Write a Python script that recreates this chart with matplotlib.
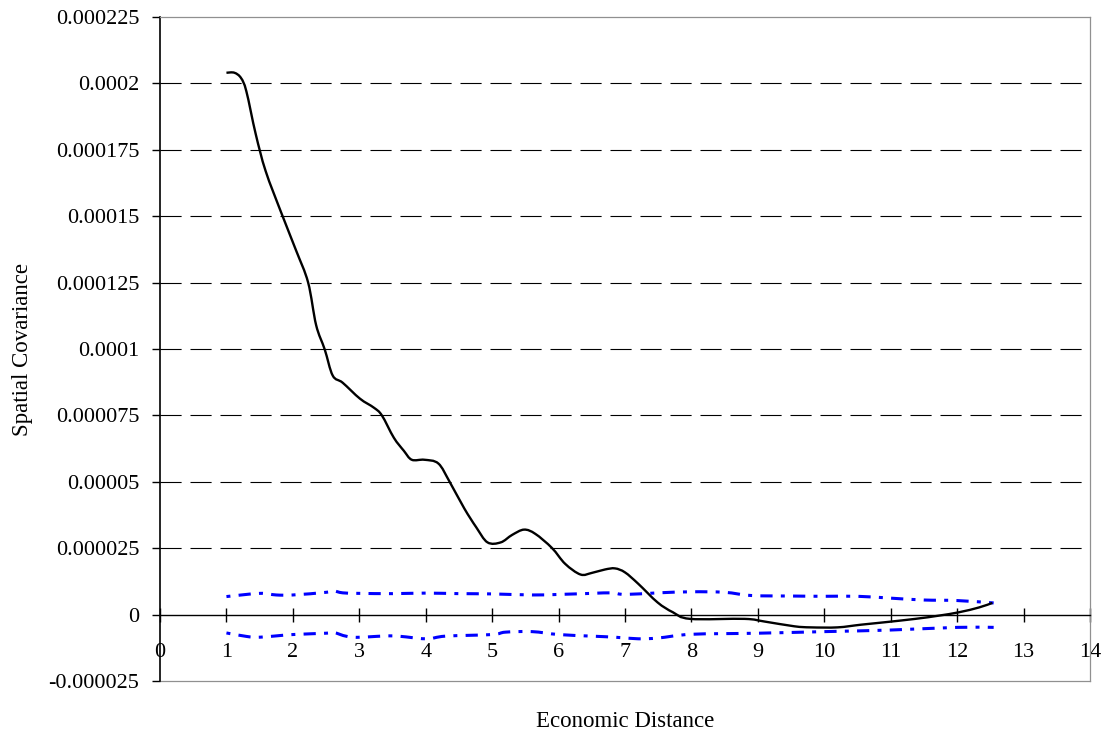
import numpy as np
import matplotlib.pyplot as plt
from matplotlib.path import Path
from matplotlib.patches import PathPatch
from matplotlib.ticker import FuncFormatter

# covariance curve
dist = [1.00, 1.12, 1.22, 1.30, 1.44, 1.59, 1.83, 2.05, 2.23, 2.35, 2.48, 2.60,
        2.75, 3.01, 3.22, 3.34, 3.52, 3.67, 3.79, 3.98, 4.19, 4.36, 4.58, 4.76,
        4.93, 5.13, 5.30, 5.48, 5.65, 5.90, 6.10, 6.33, 6.50, 6.70, 6.85, 7.00,
        7.20, 7.49, 7.72, 7.98, 8.80, 9.10, 9.55, 9.80, 10.20, 10.55, 10.90,
        11.37, 11.72, 12.03, 12.33, 12.53]
cov = [0.000204, 0.000204, 0.000202, 0.000197, 0.000181, 0.000167, 0.000151,
       0.000137, 0.000125, 0.000109, 0.0000998, 0.000090, 0.0000873, 0.0000813,
       0.0000779, 0.000075, 0.0000666, 0.0000617, 0.0000583, 0.0000583,
       0.0000569, 0.000050, 0.000040, 0.0000329, 0.0000272, 0.0000272,
       0.0000300, 0.000032, 0.0000304, 0.0000251, 0.0000191, 0.0000151,
       0.0000157, 0.0000170, 0.0000174, 0.0000159, 0.0000116, 0.0000046,
       0.0000009, -0.0000016, -0.0000016, -0.0000026, -0.0000044, -0.0000048,
       -0.0000048, -0.0000038, -0.0000029, -0.0000016, -0.0000004, 0.0000009,
       0.0000027, 0.0000044]

# confidence band (upper / lower)
band_up_x = [1.0, 1.5, 1.75, 2.0, 2.5, 2.6, 2.75, 3.0, 3.5, 4.0, 4.5, 5.0, 5.6,
             6.0, 6.5, 6.8, 7.0, 7.5, 8.0, 8.5, 8.9, 9.5, 10.0, 10.5, 11.0,
             11.5, 12.0, 12.55]
band_up = [0.0000068, 0.0000080, 0.0000074, 0.0000074, 0.0000084, 0.0000090,
           0.0000082, 0.0000080, 0.0000079, 0.0000081, 0.0000079, 0.0000078,
           0.0000074, 0.0000076, 0.0000080, 0.0000082, 0.0000076, 0.0000082,
           0.0000086, 0.0000084, 0.0000072, 0.0000070, 0.0000069, 0.0000069,
           0.0000062, 0.0000055, 0.0000053, 0.0000044]
band_lo_x = [1.0, 1.3, 1.5, 2.0, 2.5, 2.6, 2.9, 3.5, 4.0, 4.3, 5.0, 5.2, 5.6,
             6.0, 6.5, 6.85, 7.2, 7.5, 8.0, 9.0, 10.0, 11.0, 12.0, 12.55]
band_lo = [-0.0000069, -0.0000082, -0.0000085, -0.0000075, -0.0000070,
           -0.0000066, -0.0000085, -0.0000080, -0.0000091, -0.0000081,
           -0.0000075, -0.0000066, -0.0000064, -0.0000075, -0.0000081,
           -0.0000085, -0.0000091, -0.0000088, -0.0000074, -0.0000070,
           -0.0000064, -0.0000058, -0.0000048, -0.0000048]

x_ticks = list(range(0, 15))
y_ticks = [-0.000025 + 0.000025 * i for i in range(11)]


def smooth_path(xs, ys):
    """Bezier path through the points, like Excel's smoothed line."""
    pts = np.column_stack([xs, ys])
    verts = [pts[0]]
    codes = [Path.MOVETO]
    n = len(pts)
    for i in range(n - 1):
        p0 = pts[i - 1] if i > 0 else pts[i]
        p1 = pts[i]
        p2 = pts[i + 1]
        p3 = pts[i + 2] if i + 2 < n else pts[i + 1]
        verts += [p1 + (p2 - p0) / 6, p2 - (p3 - p1) / 6, p2]
        codes += [Path.CURVE4] * 3
    return Path(verts, codes)


plt.rcParams['font.family'] = 'Liberation Serif'

fig = plt.figure(figsize=(11.12, 7.38), dpi=100)
ax = fig.add_axes([0.1439, 0.0772, 0.9802 - 0.1439, 0.977 - 0.0772])

# dashed horizontal grid, skipping axis line and frame edges
for v in y_ticks[1:-1]:
    if abs(v) > 1e-12:
        ax.axhline(v, color='black', lw=0.8, dashes=(19, 8), zorder=1)

band_style = dict(fill=False, edgecolor='#0000ff', lw=2.2,
                  linestyle=(0, (1.3, 2.7, 4, 2.7)), zorder=3)
ax.add_patch(PathPatch(smooth_path(band_up_x, band_up), **band_style))
ax.add_patch(PathPatch(smooth_path(band_lo_x, band_lo), **band_style))
ax.add_patch(PathPatch(smooth_path(dist, cov), fill=False, edgecolor='black',
                       lw=1.7, zorder=4))

ax.set_xlim(0, 14)
ax.set_ylim(-0.000025, 0.000225)
ax.set_xticks(x_ticks)
ax.set_yticks(y_ticks)
ax.yaxis.set_major_formatter(FuncFormatter(
    lambda v, p: '0' if abs(v) < 1e-12 else f'{v:.6f}'.rstrip('0').rstrip('.')))

ax.spines['bottom'].set_position(('data', 0))
ax.spines['bottom'].set_color('black')
ax.spines['bottom'].set_linewidth(1.0)
ax.spines['left'].set_linewidth(1.2)
ax.spines['top'].set_color('#909090')
ax.spines['right'].set_color('#909090')
ax.spines['top'].set_linewidth(0.9)
ax.spines['right'].set_linewidth(0.9)
# gray frame edge at the bottom of the plot area
ax.plot([0, 1], [0, 0], transform=ax.transAxes, color='#909090', lw=0.9, clip_on=False)

ax.tick_params(axis='x', direction='inout', length=9.5, width=1.0, pad=16, labelsize=16)
ax.tick_params(axis='y', direction='out', length=6, width=1.0, pad=9, labelsize=16)

ax.set_xlabel('Economic Distance', fontsize=16.5, va='center')
ax.xaxis.set_label_coords(0.5, -0.0617)
ax.set_ylabel('Spatial Covariance', fontsize=16.5, va='center')
ax.yaxis.set_label_coords(-0.148, 0.5)

fig.savefig('out.png', dpi=100)
